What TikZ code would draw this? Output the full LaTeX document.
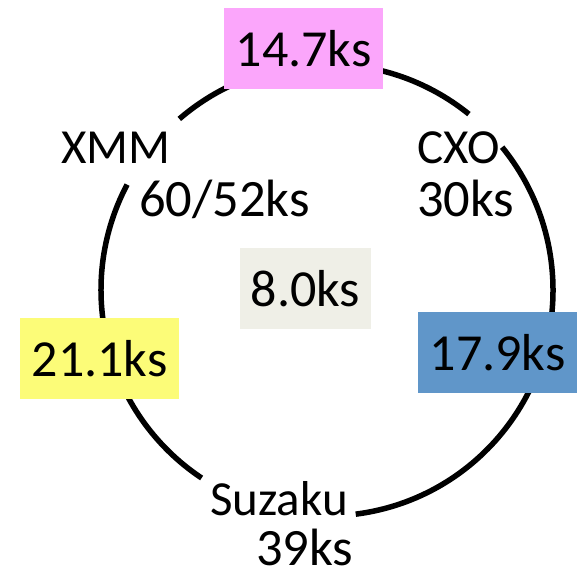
\documentclass[tikz,border=0pt]{standalone}
\usepackage{fontspec}
\setmainfont{Carlito}
\usetikzlibrary{calc}
\begin{document}
\begin{tikzpicture}[x=1pt,y=1pt,
  ring/.style={line width=5.5pt},
  lbl/.style={anchor=base west,inner sep=0pt,font=\fontsize{49}{49}\selectfont},
  num/.style={anchor=base west,inner sep=0pt,font=\fontsize{52.5}{52.5}\selectfont},
  tbox/.style={minimum width=159pt,minimum height=81pt,inner sep=0pt,text height=36pt,text depth=0pt,font=\fontsize{52}{52}\selectfont}]
\useasboundingbox (0,0) rectangle (577,576);
\coordinate (c) at (327,286);
% ring arcs
\draw[ring] ($(c)+(-82.7:226)$) arc[start angle=-82.7,end angle=39.2,radius=226];
\draw[ring] ($(c)+(51.1:226)$) arc[start angle=51.1,end angle=130.8,radius=226];
\draw[ring] ($(c)+(152.2:226)$) arc[start angle=152.2,end angle=236.3,radius=226];
% boxes
\definecolor{pinkbox}{HTML}{FBA6FB}
\definecolor{graybox}{HTML}{EFEFE7}
\definecolor{yellowbox}{HTML}{FCFC78}
\definecolor{bluebox}{HTML}{6096C9}
\node[tbox,fill=pinkbox] (pink) at (303.5,527.5) {14.7ks};
\node[tbox,fill=graybox,minimum width=131pt] (gray) at (305.5,287.5) {8.0ks};
\node[tbox,fill=yellowbox] (yellow) at (99.5,217.5) {21.1ks};
\node[tbox,fill=bluebox] (blue) at (497.5,223.5) {17.9ks};
% labels
\node[lbl] (xmm) at (61,412) {XMM};
\node[num] (xmmt) at (139,359) {60/52ks};
\node[lbl] (cxo) at (417,412) {CXO};
\node[num] (cxot) at (417,359) {30ks};
\node[lbl] (suz) at (210,61) {Suzaku};
\node[num] (suzt) at (256,11) {39ks};
\end{tikzpicture}
\end{document}
